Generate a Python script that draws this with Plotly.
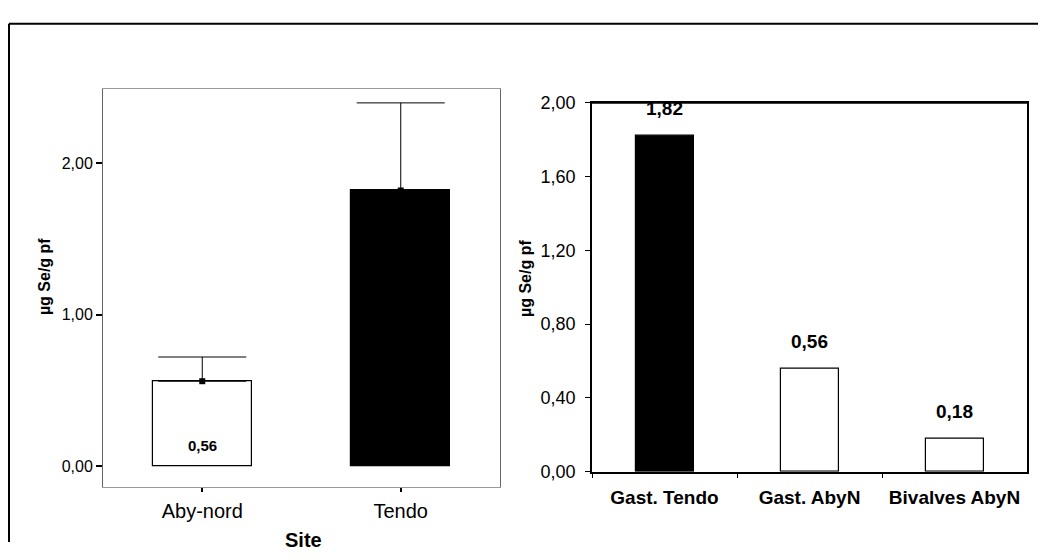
import plotly.graph_objects as go

# ---- data ----
left_sites = ["Aby-nord", "Tendo"]
left_means = [0.56, 1.82]
left_err_up = [0.16, 0.58]
left_colors = ["white", "black"]

right_groups = ["Gast. Tendo", "Gast. AbyN", "Bivalves AbyN"]
right_values = [1.82, 0.56, 0.18]
right_colors = ["black", "white", "white"]

left_ticks = [0, 1, 2]
right_ticks = [0, 0.4, 0.8, 1.2, 1.6, 2.0]

FONT = "Liberation Sans, Arial, sans-serif"
OFF = 8                      # body margin of the page
W, H = 1046 - 2 * OFF, 560 - 2 * OFF   # figure fits the window exactly


def px(x):
    return (x - OFF) / W


def py(y):
    return 1 - (y - OFF) / H


fig = go.Figure()

fig.add_trace(go.Bar(
    x=left_sites, y=left_means, width=0.5,
    marker=dict(color=left_colors, line=dict(color="black", width=1.2)),
    error_y=dict(type="data", symmetric=False, array=left_err_up,
                 arrayminus=[0] * len(left_means), color="black",
                 thickness=1, width=44),
    xaxis="x", yaxis="y", showlegend=False, hoverinfo="skip"))
fig.add_trace(go.Scatter(
    x=left_sites, y=left_means, mode="markers",
    marker=dict(symbol="square", size=6, color="black"),
    xaxis="x", yaxis="y", showlegend=False, hoverinfo="skip"))

fig.add_trace(go.Bar(
    x=right_groups, y=right_values, width=0.4,
    marker=dict(color=right_colors, line=dict(color="black", width=1.2)),
    xaxis="x2", yaxis="y2", showlegend=False, hoverinfo="skip"))


def fmt(v):
    return f"{v:.2f}".replace(".", ",")


annotations = []
annotations.append(dict(x=left_sites[0], y=0, xref="x", yref="y",
                        text=fmt(left_means[0]), showarrow=False, yshift=20,
                        xanchor="center", yanchor="middle",
                        font=dict(family=FONT, size=15, color="black", weight="bold")))
for g, v in zip(right_groups, right_values):
    annotations.append(dict(x=g, y=v, xref="x2", yref="y2", text=fmt(v),
                            showarrow=False, yshift=27,
                            xanchor="center", yanchor="middle",
                            font=dict(family=FONT, size=19, color="black", weight="bold")))
annotations.append(dict(x=px(44), y=py(277), xref="paper", yref="paper",
                        text="µg Se/g pf", textangle=-90, showarrow=False,
                        xanchor="center", yanchor="middle",
                        font=dict(family=FONT, size=16, color="black", weight="bold")))
annotations.append(dict(x=px(525), y=py(279), xref="paper", yref="paper",
                        text="µg Se/g pf", textangle=-90, showarrow=False,
                        xanchor="center", yanchor="middle",
                        font=dict(family=FONT, size=16, color="black", weight="bold")))
annotations.append(dict(x=px(303), y=py(550), xref="paper", yref="paper",
                        text="Site", showarrow=False,
                        xanchor="center", yanchor="middle",
                        font=dict(family=FONT, size=20, color="black", weight="bold")))

shapes = [
    # outer frame: top and left edges (the others run off the picture)
    dict(type="line", xref="paper", yref="paper", x0=px(9), x1=1,
         y0=py(14), y1=py(14), line=dict(color="black", width=2)),
    dict(type="line", xref="paper", yref="paper", x0=px(9), x1=px(9),
         y0=0, y1=py(14), line=dict(color="black", width=2)),
    # thick top border of the right plot
    dict(type="line", xref="paper", yref="paper", x0=px(592), x1=px(1027),
         y0=py(96), y1=py(96), line=dict(color="black", width=2.2)),
]

fig.update_layout(
    width=W, height=H,
    margin=dict(l=0, r=0, t=0, b=0),
    paper_bgcolor="white", plot_bgcolor="white",
    separators=", ",
    font=dict(family=FONT, color="black"),
    bargap=0,
    annotations=annotations,
    shapes=shapes,
    xaxis=dict(domain=[px(103), px(500)], anchor="y", range=[-0.5, 1.5],
               showline=True, linecolor="#999999", linewidth=1, mirror=True,
               ticks="outside", ticklen=4, tickwidth=2, tickcolor="black",
               tickfont=dict(size=20, family=FONT), ticklabelstandoff=2,
               showgrid=False, zeroline=False),
    yaxis=dict(domain=[py(495), py(82)], anchor="x", range=[-0.14, 2.49],
               showline=True, linecolor="#666666", linewidth=1, mirror=True,
               tickvals=left_ticks, tickformat=".2f",
               ticks="outside", ticklen=6, tickwidth=2, tickcolor="black",
               tickfont=dict(size=16, family=FONT),
               showgrid=False, zeroline=False),
    xaxis2=dict(domain=[px(592), px(1027)], anchor="y2",
                showline=True, linecolor="black", linewidth=1.5, mirror=True,
                ticks="outside", tickson="boundaries", ticklen=5, tickcolor="black",
                tickfont=dict(size=19, family=FONT, weight="bold"),
                ticklabelstandoff=8,
                showgrid=False, zeroline=False),
    yaxis2=dict(domain=[py(479), py(96)], anchor="x2", range=[0, 2.0],
                showline=True, linecolor="black", linewidth=1.5, mirror=True,
                tickvals=right_ticks, tickformat=".2f",
                ticks="outside", ticklen=5, tickcolor="black",
                tickfont=dict(size=18, family=FONT), ticklabelstandoff=6,
                showgrid=False, zeroline=False),
)

fig.write_html("out.html")
